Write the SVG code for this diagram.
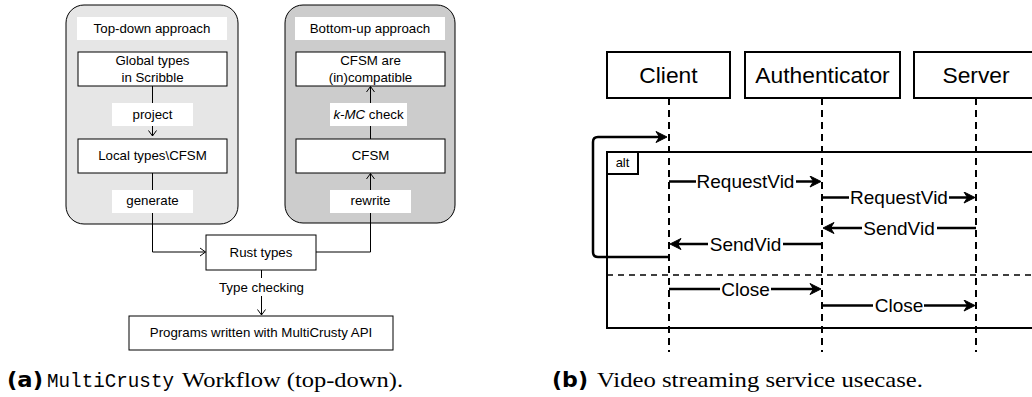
<svg xmlns="http://www.w3.org/2000/svg" width="1032" height="397" viewBox="0 0 1032 397">
<style>
.lbl{font-family:"Liberation Sans",Arial,sans-serif;font-size:13.3px;fill:#000;text-anchor:middle}
.box{fill:#fff;stroke:#000;stroke-width:1}
.wb{fill:#fff;stroke:none}
.edge{fill:none;stroke:#000;stroke-width:1}
.sq{font-family:"Liberation Sans",Arial,sans-serif;fill:#000;text-anchor:middle}
.pbox{fill:#fff;stroke:#000;stroke-width:2}
.life{stroke:#000;stroke-width:2;stroke-dasharray:7 5;fill:none}
.msg{stroke:#000;stroke-width:2.5;fill:none;marker-end:url(#fa)}
.cap{font-size:21px;fill:#000}
</style>
<defs>
<marker id="oa" markerUnits="userSpaceOnUse" viewBox="-7 -5 8 10" markerWidth="8" markerHeight="10" refX="0" refY="0" orient="auto">
<path d="M-5.5,-4 L0,0 L-5.5,4" fill="none" stroke="#000" stroke-width="1"/>
</marker>
<marker id="fa" markerUnits="userSpaceOnUse" viewBox="-12 -6 13 12" markerWidth="13" markerHeight="12" refX="-7" refY="0" orient="auto">
<path d="M0,0 L-11,-5.5 L-7.5,0 L-11,5.5 Z" fill="#000" stroke="#000" stroke-width="1" stroke-linejoin="miter"/>
</marker>
</defs>
<rect width="1032" height="397" fill="#fff"/>

<!-- Left panel containers -->
<g id="topdown">
<rect x="66" y="5" width="172" height="219" rx="18" fill="#e6e6e6" stroke="#000" stroke-width="1"/>
<rect class="wb" x="77" y="17" width="150" height="23"/>
<text class="lbl" x="152" y="33.3">Top-down approach</text>
</g>
<g id="bottomup">
<rect x="285" y="5" width="170" height="218" rx="18" fill="#cccccc" stroke="#000" stroke-width="1"/>
<rect class="wb" x="295" y="17" width="150" height="23"/>
<text class="lbl" x="370" y="33.3">Bottom-up approach</text>
</g>

<!-- Left connectors -->
<g id="left-connectors">
<path class="edge" d="M152.5,86 V136" marker-end="url(#oa)"/>
<path class="edge" d="M152.5,173 V252 H205.5" marker-end="url(#oa)"/>
<path class="edge" d="M370.5,139 V86.5" marker-end="url(#oa)"/>
<path class="edge" d="M316,252 H370.5 V173.5" marker-end="url(#oa)"/>
<path class="edge" d="M261.5,270 V315" marker-end="url(#oa)"/>
<rect class="wb" x="112" y="103" width="81" height="23"/>
<text class="lbl" x="152.5" y="119">project</text>
<rect class="wb" x="112" y="190" width="81" height="23"/>
<text class="lbl" x="152.5" y="205">generate</text>
<rect class="wb" x="330" y="103" width="77" height="23"/>
<text class="lbl" x="368.5" y="119"><tspan font-style="italic">k-MC</tspan> check</text>
<rect class="wb" x="330" y="190" width="81" height="23"/>
<text class="lbl" x="370.5" y="205">rewrite</text>
<rect class="wb" x="214" y="278" width="95" height="18"/>
<text class="lbl" x="261.5" y="291.7">Type checking</text>
</g>

<g id="global">
<rect class="box" x="78" y="52" width="149" height="34"/>
<text class="lbl" x="152.5" y="65">Global types</text>
<text class="lbl" x="152.5" y="81.7">in Scribble</text>
</g>
<g id="local">
<rect class="box" x="78" y="139" width="149" height="34"/>
<text class="lbl" x="152.5" y="160">Local types\CFSM</text>
</g>
<g id="compat">
<rect class="box" x="296" y="52" width="149" height="34"/>
<text class="lbl" x="370.5" y="65">CFSM are</text>
<text class="lbl" x="370.5" y="81.7">(in)compatible</text>
</g>
<g id="cfsm">
<rect class="box" x="296" y="139" width="149" height="34"/>
<text class="lbl" x="370.5" y="160">CFSM</text>
</g>
<g id="rust">
<rect class="box" x="206" y="235" width="110" height="35"/>
<text class="lbl" x="261" y="256.7">Rust types</text>
</g>
<g id="programs">
<rect class="box" x="129" y="316" width="264" height="34"/>
<text class="lbl" x="261" y="336.7">Programs written with MultiCrusty API</text>
</g>

<!-- Right panel -->
<g id="alt-frame">
<path d="M1040,152 H607 V328 H1040" fill="none" stroke="#000" stroke-width="2"/>
<line x1="607" y1="275" x2="1032" y2="275" stroke="#000" stroke-width="1.3" stroke-dasharray="6 5"/>
<rect class="pbox" x="607" y="152" width="31" height="22"/>
<text class="sq" x="622.5" y="167" font-size="13">alt</text>
</g>
<g id="lifelines">
<line class="life" x1="669" y1="98" x2="669" y2="352"/>
<line class="life" x1="822" y1="98" x2="822" y2="352"/>
<line class="life" x1="976" y1="98" x2="976" y2="352"/>
</g>
<g id="client">
<rect class="pbox" x="607" y="52" width="123" height="46"/>
<text class="sq" x="668.5" y="83.3" font-size="22.8">Client</text>
</g>
<g id="authenticator">
<rect class="pbox" x="745" y="52" width="155" height="46"/>
<text class="sq" x="822.5" y="83.3" font-size="22.8">Authenticator</text>
</g>
<g id="server">
<rect class="pbox" x="914" y="52" width="124" height="46"/>
<text class="sq" x="976" y="83.3" font-size="22.8">Server</text>
</g>

<g id="messages">
<path d="M669,257 H598 Q593,257 593,252 V142 Q593,137 598,137 H660" class="msg"/>
<line class="msg" x1="669" y1="181.5" x2="814" y2="181.5"/>
<line class="msg" x1="822" y1="197.5" x2="968" y2="197.5"/>
<line class="msg" x1="976" y1="228" x2="830" y2="228"/>
<line class="msg" x1="822" y1="244" x2="677" y2="244"/>
<line class="msg" x1="669" y1="289" x2="814" y2="289"/>
<line class="msg" x1="822" y1="305.5" x2="968" y2="305.5"/>
<g font-size="19">
<rect class="wb" x="696" y="172" width="100" height="19"/>
<text class="sq" x="745.5" y="188.3" font-size="19">RequestVid</text>
<rect class="wb" x="849" y="188" width="100" height="19"/>
<text class="sq" x="899" y="204.3" font-size="19">RequestVid</text>
<rect class="wb" x="862" y="218.5" width="75" height="19"/>
<text class="sq" x="899" y="234.8" font-size="19">SendVid</text>
<rect class="wb" x="708" y="234.5" width="75" height="19"/>
<text class="sq" x="745.5" y="250.8" font-size="19">SendVid</text>
<rect class="wb" x="720" y="279.5" width="51" height="19"/>
<text class="sq" x="745.5" y="295.8" font-size="19">Close</text>
<rect class="wb" x="873" y="296" width="51" height="19"/>
<text class="sq" x="899" y="312.3" font-size="19">Close</text>
</g>
</g>

<!-- Captions -->
<g id="caption-a">
<text x="7" y="387" class="cap" font-family="'DejaVu Sans',sans-serif" font-weight="bold" textLength="36" lengthAdjust="spacingAndGlyphs">(a)</text>
<text x="47" y="387" class="cap" font-family="'Liberation Mono','DejaVu Sans Mono',monospace" font-size="20" textLength="127" lengthAdjust="spacingAndGlyphs">MultiCrusty</text>
<text x="182" y="387" class="cap" font-family="'Liberation Serif',serif" font-size="22" textLength="221" lengthAdjust="spacingAndGlyphs">Workflow (top-down).</text>
</g>
<g id="caption-b">
<text x="552" y="387" class="cap" font-family="'DejaVu Sans',sans-serif" font-weight="bold" textLength="36" lengthAdjust="spacingAndGlyphs">(b)</text>
<text x="597" y="387" class="cap" font-family="'Liberation Serif',serif" font-size="22" textLength="326" lengthAdjust="spacingAndGlyphs">Video streaming service usecase.</text>
</g>
</svg>
